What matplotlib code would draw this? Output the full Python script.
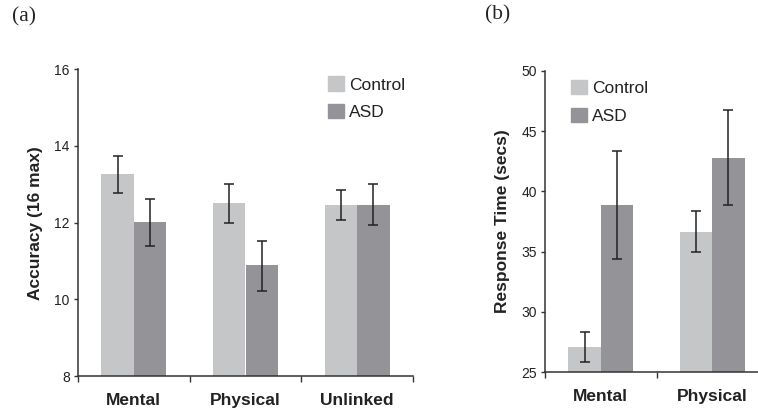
import numpy as np
import matplotlib
matplotlib.use("Agg")
import matplotlib.pyplot as plt
from matplotlib.patches import Patch

# panel (a) accuracy
acc_cats = ["Mental", "Physical", "Unlinked"]
acc_control = [13.27, 12.51, 12.46]
acc_control_lo = [12.78, 12.00, 12.07]
acc_control_hi = [13.73, 13.00, 12.86]
acc_asd = [12.01, 10.89, 12.46]
acc_asd_lo = [11.39, 10.21, 11.93]
acc_asd_hi = [12.62, 11.53, 13.00]

# panel (b) response time
rt_cats = ["Mental", "Physical"]
rt_control = [27.08, 36.63]
rt_control_lo = [25.86, 34.97]
rt_control_hi = [28.30, 38.35]
rt_asd = [38.87, 42.77]
rt_asd_lo = [34.40, 38.87]
rt_asd_hi = [43.35, 46.79]

C_CTRL = "#c5c6c8"
C_ASD = "#949498"
BW = 0.29

plt.rcParams['font.family'] = ['Liberation Sans', 'DejaVu Sans']

fig = plt.figure(figsize=(7.58, 4.13), dpi=100)
W, H = 758.0, 413.0


def panel(rect, cats, ctrl, clo, chi, asd, alo, ahi, ylim, yticks, ylabel, xmax):
    ax = fig.add_axes(rect)
    x = np.arange(len(cats)) + 0.5
    ax.bar(x - BW / 2, ctrl, BW, color=C_CTRL, zorder=1)
    ax.bar(x + BW / 2, asd, BW, color=C_ASD, zorder=1)
    for xs, v, lo, hi in [(x - BW / 2, ctrl, clo, chi), (x + BW / 2, asd, alo, ahi)]:
        v = np.array(v)
        err = [v - np.array(lo), np.array(hi) - v]
        ax.errorbar(xs, v, yerr=err, fmt="none", ecolor="#222222", elinewidth=1.1,
                    capsize=3.5, capthick=1.1, zorder=3)
    ax.set_xlim(0, xmax)
    ax.set_ylim(*ylim)
    ax.set_yticks(yticks)
    ax.tick_params(axis="y", labelsize=10, length=3, width=1, colors="#333333",
                   labelcolor="#222222", pad=3)
    ax.set_xticks(np.arange(len(cats) + 1))
    ax.set_xticklabels([])
    ax.set_xticks(x, minor=True)
    ax.set_xticklabels(cats, minor=True, fontsize=12.5, fontweight="bold", color="#222222")
    ax.tick_params(axis="x", which="major", length=4, width=1, colors="#333333")
    ax.tick_params(axis="x", which="minor", length=0, pad=12)
    ax.set_ylabel(ylabel, fontsize=12.5, fontweight="bold", color="#222222", labelpad=8)
    for s in ["top", "right"]:
        ax.spines[s].set_visible(False)
    for s in ["left", "bottom"]:
        ax.spines[s].set_color("#333333")
        ax.spines[s].set_linewidth(1.1)
    return ax


ax1 = panel([78 / W, 1 - 376 / H, 335 / W, 306.7 / H], acc_cats,
            acc_control, acc_control_lo, acc_control_hi,
            acc_asd, acc_asd_lo, acc_asd_hi,
            (8, 16), [8, 10, 12, 14, 16], "Accuracy (16 max)", 3)
ax2 = panel([545 / W, 1 - 372 / H, 223 / W, 301 / H], rt_cats,
            rt_control, rt_control_lo, rt_control_hi,
            rt_asd, rt_asd_lo, rt_asd_hi,
            (25, 50), [25, 30, 35, 40, 45, 50], "Response Time (secs)", 2)

handles = [Patch(color=C_CTRL, label="Control"), Patch(color=C_ASD, label="ASD")]
for ax, anchor in [(ax1, (0.747, 0.977)), (ax2, (0.117, 0.97))]:
    ax.legend(handles=handles, loc="upper left", bbox_to_anchor=anchor, frameon=False,
              fontsize=12.5, handlelength=0.9, handleheight=0.9, handletextpad=0.3,
              labelspacing=0.65, borderpad=0, borderaxespad=0, labelcolor="#222222")

fig.text(12 / W, 1 - 17 / H, "(a)", family="Liberation Serif", fontsize=15.5,
         va="center", ha="left", color="#222222")
fig.text(485 / W, 1 - 15 / H, "(b)", family="Liberation Serif", fontsize=15.5,
         va="center", ha="left", color="#222222")

fig.savefig("out.png", dpi=100)
